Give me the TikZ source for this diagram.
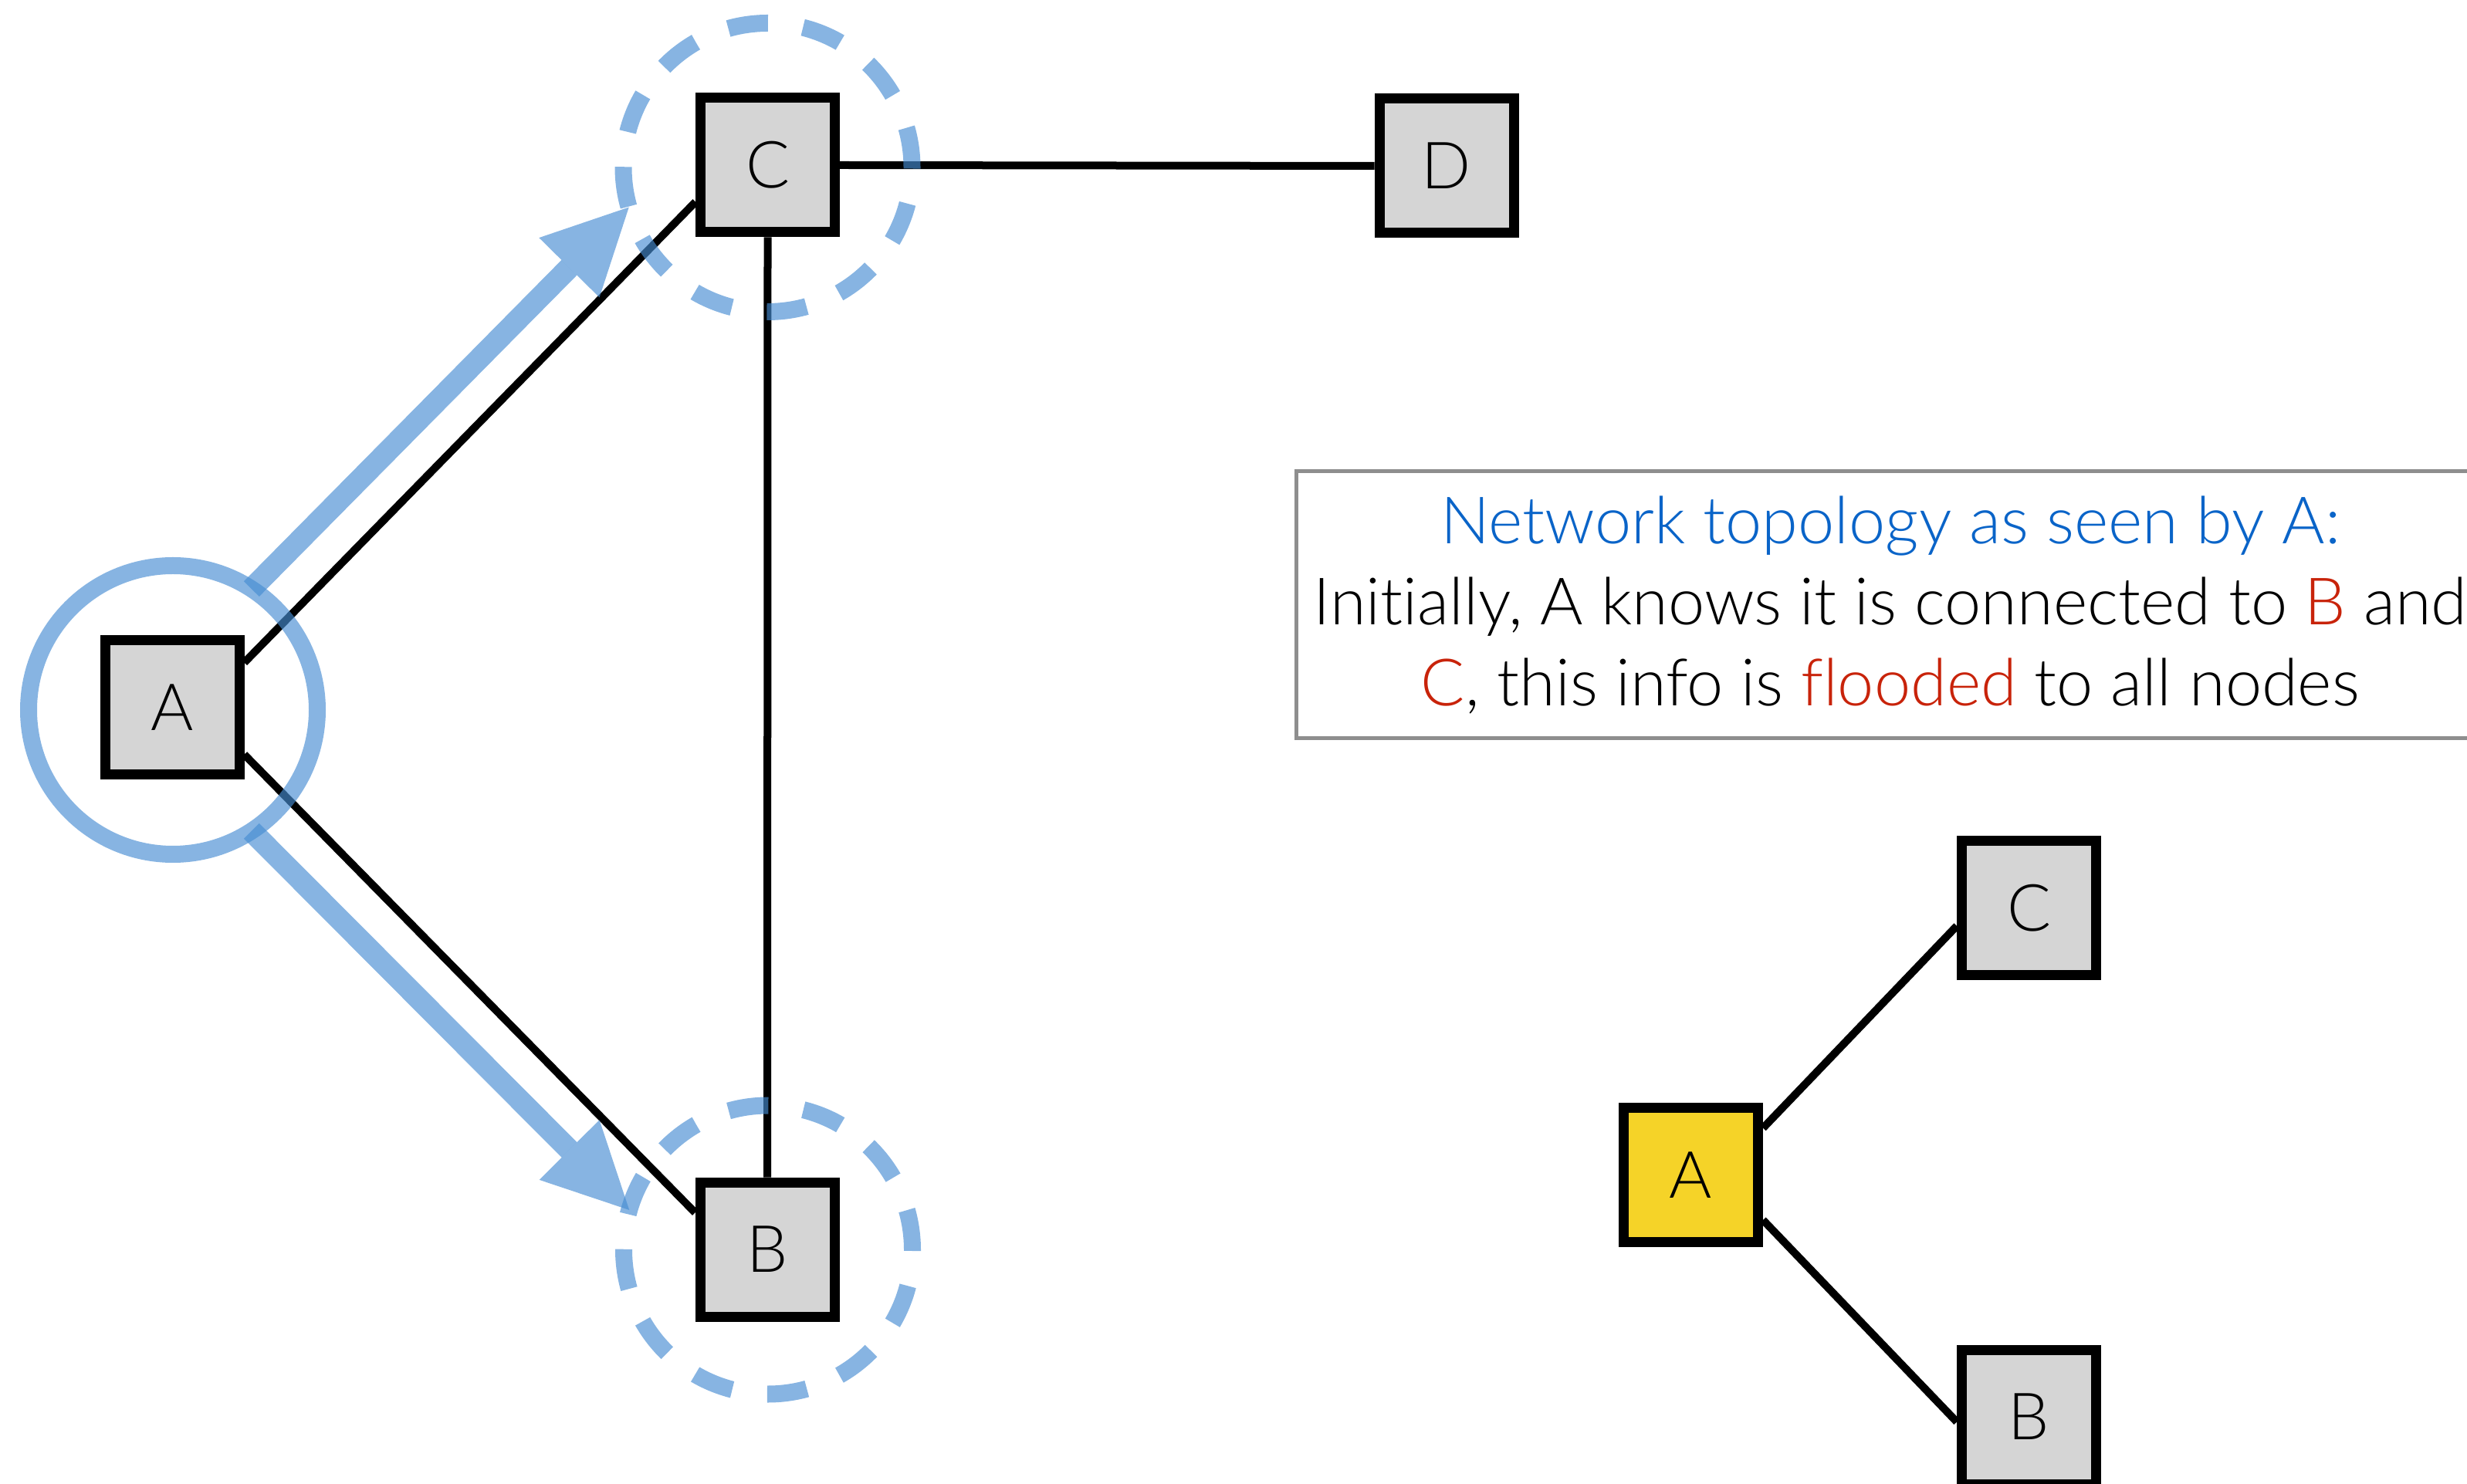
\documentclass[tikz,border=0pt]{standalone}
\usepackage{fontspec}
\setmainfont{Lato}[UprightFont={* Light}, Ligatures=NoCommon]
\usepackage{xcolor}
\usepackage{tikz}
\usetikzlibrary{arrows.meta}
\definecolor{boxgrey}{RGB}{213,213,213}
\definecolor{srcyellow}{RGB}{245,211,40}
\definecolor{floodblue}{RGB}{70,140,210}
\definecolor{topoblue}{RGB}{10,100,200}
\definecolor{floodred}{RGB}{200,35,10}
\definecolor{framegrey}{RGB}{142,142,142}
\tikzstyle{netnode}=[black, draw=black, line width=0.13cm, shape=rectangle, fill=boxgrey, minimum size=1.74cm, inner sep=0pt, font=\fontsize{24}{29}\selectfont]
\tikzstyle{srcnode}=[netnode, fill=srcyellow]
\tikzstyle{reachring}=[draw=floodblue, draw opacity=0.65, line width=0.22cm, shape=circle, minimum size=3.74cm, inner sep=0pt, outer sep=0pt]
\tikzstyle{recvring}=[reachring, dash pattern=on 0.52cm off 0.458cm]
\tikzstyle{link}=[line width=0.1cm, color=black]
\tikzstyle{infobox}=[draw=framegrey, line width=0.05cm, shape=rectangle, minimum width=15.39cm, minimum height=3.46cm, align=center, font=\fontsize{24.1}{29.9}\selectfont]

\begin{document}
\begin{tikzpicture}
\useasboundingbox (0,0) rectangle (31.96,19.22);
\node [netnode] (a) at (2.23,10.05) {A};
\node [netnode] (c) at (9.945,17.08) {C};
\node [netnode] (d) at (18.74,17.07) {D};
\node [netnode] (b) at (9.94,3.03) {B};

\draw[link] (a.32) -- (c.207);
\draw[link] (a.327) -- (b.153);
\draw[link] (c.south) -- (b.north);
\draw[link] (c.east) -- (d.west);

\node [reachring] (ringa) at (2.24,10.02) {};
\node [recvring] (ringc) at (9.945,17.05) {};
\node [recvring] (ringb) at (9.95,3.025) {};

\draw[-{Triangle[length=1.1cm, width=1.1cm, line width=0pt]}, line width=0.28cm, color=floodblue, opacity=0.65] (ringa.57) -- (ringc.196);
\draw[-{Triangle[length=1.1cm, width=1.1cm, line width=0pt]}, line width=0.28cm, color=floodblue, opacity=0.65] (ringa.303) -- (ringb.164);

\node [infobox] (info) at (24.49,11.38) {\textcolor{topoblue}{Network topology as seen by A:}\\ Initially, A knows it is connected to \textcolor{floodred}{B} and\\ \textcolor{floodred}{C}, this info is \textcolor{floodred}{flooded} to all nodes};

% view from A
\node [srcnode] (va) at (21.905,3.995) {A};
\node [netnode] (vc) at (26.285,7.455) {C};
\node [netnode] (vb) at (26.285,0.86) {B};
\draw[link] (va.33) -- (vc.194);
\draw[link] (va.328) -- (vb.184);
\end{tikzpicture}
\end{document}
